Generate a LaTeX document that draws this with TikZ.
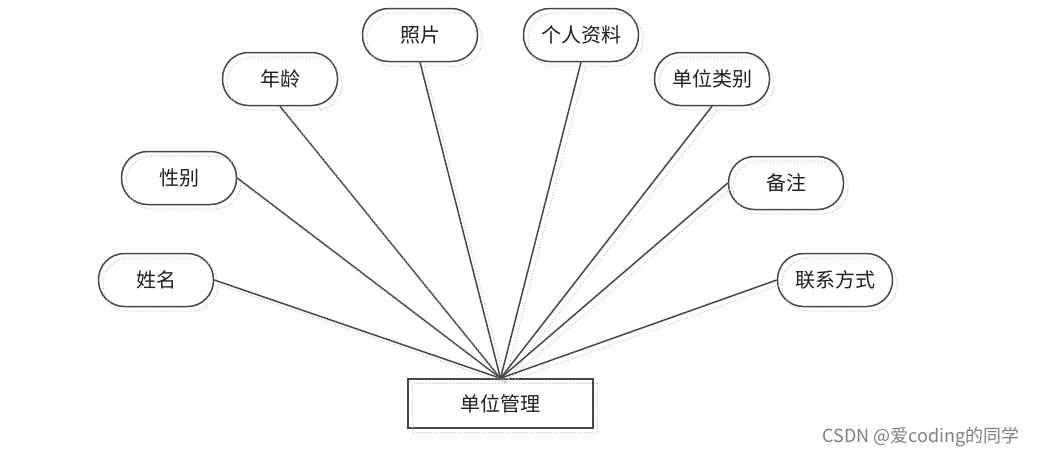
\documentclass[tikz,border=0pt]{standalone}
\usepackage{fontspec}
\newfontfamily\cjk{Noto Sans CJK SC}
\begin{document}
\begin{tikzpicture}[x=1pt,y=-1pt,
  shad/.style={postaction={draw=black!25, dotted, line width=1pt, fill=none,
    transform canvas={shift={(4.5pt,-4.5pt)}}}},
  attr/.style={draw=black!72, line width=1.5pt, rounded corners=26pt,
    minimum width=115pt, minimum height=53pt, inner sep=0pt,
    font=\cjk\fontsize{20}{22}\selectfont, text=black!88, shad},
  entity/.style={draw=black!72, line width=1.5pt,
    minimum width=185pt, minimum height=49pt, inner sep=0pt,
    font=\cjk\fontsize{20}{22}\selectfont, text=black!88, shad},
  link/.style={draw=black!72, line width=1.5pt, shad}
]
\useasboundingbox (0,0) rectangle (1038,456);
\node[entity] (main) at (500.5,403.5) {单位管理};
\node[attr] (xm) at (156,280) {姓名};
\node[attr] (xb) at (179,178) {性别};
\node[attr] (nl) at (280,79) {年龄};
\node[attr] (zp) at (420,35) {照片};
\node[attr] (gr) at (581,35) {个人资料};
\node[attr] (dw) at (712,79) {单位类别};
\node[attr] (bz) at (786,183) {备注};
\node[attr] (lx) at (835,280) {联系方式};
\draw[link] (xm.east) -- (main.north);
\draw[link] (xb.east) -- (main.north);
\draw[link] (nl.south) -- (main.north);
\draw[link] (zp.south) -- (main.north);
\draw[link] (gr.south) -- (main.north);
\draw[link] (dw.south) -- (main.north);
\draw[link] (bz.west) -- (main.north);
\draw[link] (lx.west) -- (main.north);
\node[font=\cjk\fontsize{18}{20}\selectfont, text=black!50, anchor=east] (wm) at (1023,437) {CSDN @爱coding的同学};
\end{tikzpicture}
\end{document}
